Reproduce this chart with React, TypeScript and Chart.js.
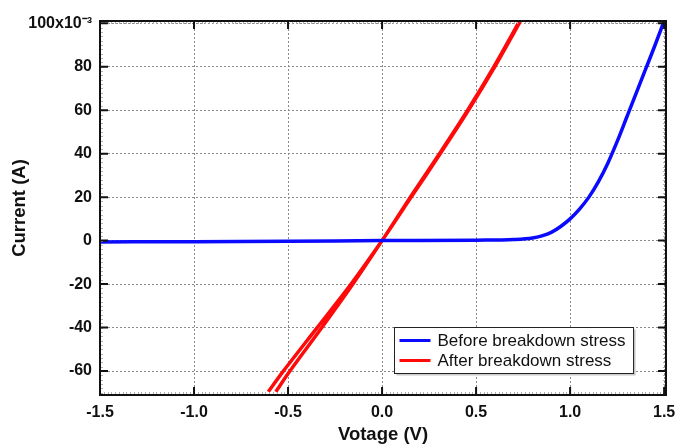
import React, { useEffect, useRef } from 'react';
import { Chart, registerables } from 'chart.js';

Chart.register(...registerables);

const xTickValues = [-1.5, -1.0, -0.5, 0, 0.5, 1.0, 1.5];
const yTickValues = [-60, -40, -20, 0, 20, 40, 60, 80, 100];

const beforeVoltage = [-1.5, -1.0, -0.5, 0, 0.5, 0.7, 0.8, 0.85, 0.9, 0.95, 1.0, 1.05, 1.1, 1.15, 1.2, 1.25, 1.3, 1.35, 1.4, 1.45, 1.5];
const beforeCurrent = [-0.6, -0.5, -0.3, 0, 0.2, 0.5, 1.2, 2.2, 3.8, 6.5, 10, 14.5, 20, 27, 35.5, 45.5, 56.5, 67.5, 78.5, 89.5, 101];

const afterVoltage = [-0.565, -0.49, -0.32, -0.155, 0, 0.15, 0.305, 0.455, 0.595, 0.725, 0.75, 0.755, 0.73, 0.6, 0.46, 0.31, 0.155, 0, -0.165, -0.345, -0.525, -0.605];
const afterCurrent = [-69.5, -60, -40, -20, 0, 20, 40, 60, 80, 100, 104, 104, 100, 80, 60, 40, 20, 0, -20, -40, -60, -69.5];

const seriesLabels = ['Before breakdown stress', 'After breakdown stress'];
const seriesColors = ['#0a0aff', '#ff0a0a'];

const X_MIN = -1.5;
const X_MAX = 1.51;
const Y_MIN = -71;
const Y_MAX = 101;

const FONT = '"Liberation Sans", Arial, sans-serif';

const framePlugin = {
  id: 'frameTicksLegend',
  afterDatasetsDraw(chart: any) {
    const { ctx, chartArea } = chart;
    const xs = chart.scales.x;
    const ys = chart.scales.y;
    const { left, right, top, bottom } = chartArea;
    ctx.save();
    // minor ticks
    ctx.strokeStyle = '#b0b0b0';
    ctx.lineWidth = 1;
    ctx.beginPath();
    for (let v = -70; v <= 100; v += 2) {
      const py = Math.round(ys.getPixelForValue(v)) + 0.5;
      ctx.moveTo(left, py); ctx.lineTo(left + 3, py);
      ctx.moveTo(right, py); ctx.lineTo(right - 3, py);
    }
    for (let i = -75; i <= 75; i++) {
      const v = i * 0.02;
      const px = Math.round(xs.getPixelForValue(v)) + 0.5;
      ctx.moveTo(px, top); ctx.lineTo(px, top + 3);
      ctx.moveTo(px, bottom); ctx.lineTo(px, bottom - 3);
    }
    ctx.stroke();
    // major ticks
    ctx.strokeStyle = '#111';
    ctx.lineWidth = 2;
    ctx.beginPath();
    yTickValues.forEach((v) => {
      const py = ys.getPixelForValue(v);
      ctx.moveTo(left, py); ctx.lineTo(left + 8, py);
      ctx.moveTo(right, py); ctx.lineTo(right - 8, py);
    });
    xTickValues.forEach((v) => {
      const px = xs.getPixelForValue(v);
      ctx.moveTo(px, top); ctx.lineTo(px, top + 8);
      ctx.moveTo(px, bottom); ctx.lineTo(px, bottom - 8);
    });
    ctx.stroke();
    // frame
    ctx.strokeStyle = '#111';
    ctx.lineWidth = 2;
    ctx.strokeRect(left, top, right - left, bottom - top);

    // legend
    ctx.font = `17px ${FONT}`;
    const datasets = chart.data.datasets;
    let maxW = 0;
    datasets.forEach((d: any) => { maxW = Math.max(maxW, ctx.measureText(d.label).width); });
    const boxW = 5 + 31 + 7 + maxW + 8;
    const boxH = 46;
    const bx = Math.round(right - 33 - boxW) + 0.5;
    const by = Math.round(bottom - 22 - boxH) + 0.5;
    ctx.fillStyle = '#c8c8c8';
    ctx.fillRect(bx + 2, by + 2, boxW, boxH);
    ctx.fillStyle = '#fff';
    ctx.fillRect(bx, by, boxW, boxH);
    ctx.strokeStyle = '#222';
    ctx.lineWidth = 1;
    ctx.strokeRect(bx, by, boxW, boxH);
    datasets.forEach((d: any, i: number) => {
      const cy = by + 13 + i * 20;
      ctx.strokeStyle = d.borderColor;
      ctx.lineWidth = 3;
      ctx.beginPath();
      ctx.moveTo(bx + 5, cy); ctx.lineTo(bx + 36, cy);
      ctx.stroke();
      ctx.fillStyle = '#111';
      ctx.textBaseline = 'middle';
      ctx.textAlign = 'left';
      ctx.fillText(d.label, bx + 43, cy + 1);
    });
    ctx.restore();
  },
};

export default function App() {
  const ref = useRef<HTMLCanvasElement | null>(null);
  useEffect(() => {
    if (!ref.current) return;
    const chart = new Chart(ref.current, {
      type: 'scatter',
      data: {
        datasets: [
          {
            label: seriesLabels[0],
            data: beforeVoltage.map((v, i) => ({ x: v, y: beforeCurrent[i] })),
            borderColor: seriesColors[0],
            backgroundColor: seriesColors[0],
            borderWidth: 3.5,
            showLine: true,
            pointRadius: 0,
            cubicInterpolationMode: 'monotone',
          },
          {
            label: seriesLabels[1],
            data: afterVoltage.map((v, i) => ({ x: v, y: afterCurrent[i] })),
            borderColor: seriesColors[1],
            backgroundColor: seriesColors[1],
            borderWidth: 3.5,
            showLine: true,
            pointRadius: 0,
            tension: 0.3,
          },
        ],
      },
      options: {
        animation: false,
        responsive: true,
        maintainAspectRatio: false,
        layout: { padding: { left: 0, top: 21, right: 12, bottom: 0 } },
        plugins: { legend: { display: false }, tooltip: { enabled: false } },
        scales: {
          x: {
            type: 'linear',
            min: X_MIN,
            max: X_MAX,
            afterBuildTicks: (s: any) => { s.ticks = xTickValues.map((v) => ({ value: v })); },
            afterFit: (s: any) => { s.height = 52; s.paddingLeft = 0; s.paddingRight = 0; },
            grid: { color: '#8a8a8a', lineWidth: 1, drawTicks: false },
            border: { display: false, dash: [2, 2] },
            ticks: {
              padding: 8,
              color: '#111',
              font: { family: FONT, size: 16, weight: 'bold' },
              callback: (v: any) => Number(v).toFixed(1),
              maxRotation: 0,
              autoSkip: false,
            },
            title: {
              display: true,
              text: 'Votage (V)',
              color: '#111',
              font: { family: FONT, size: 18.5, weight: 'bold' },
              padding: { top: 0, bottom: 1 },
            },
          },
          y: {
            type: 'linear',
            min: Y_MIN,
            max: Y_MAX,
            afterBuildTicks: (s: any) => { s.ticks = yTickValues.map((v) => ({ value: v })); },
            afterFit: (s: any) => { s.width = 100; s.paddingTop = 0; s.paddingBottom = 0; },
            grid: { color: '#8a8a8a', lineWidth: 1, drawTicks: false },
            border: { display: false, dash: [2, 2] },
            ticks: {
              padding: 8,
              color: '#111',
              font: { family: FONT, size: 16, weight: 'bold' },
              callback: (v: any) => (v === 100 ? '100x10\u207B\u00B3' : String(v)),
              autoSkip: false,
            },
            title: {
              display: true,
              text: 'Current (A)',
              color: '#111',
              font: { family: FONT, size: 18.5, weight: 'bold' },
              padding: { top: 9, bottom: 0 },
            },
          },
        },
      },
      plugins: [framePlugin],
    } as any);
    return () => chart.destroy();
  }, []);
  return (
    <div style={{ position: 'absolute', left: 0, top: 0, width: 678, height: 447 }}>
      <canvas ref={ref} />
    </div>
  );
}
